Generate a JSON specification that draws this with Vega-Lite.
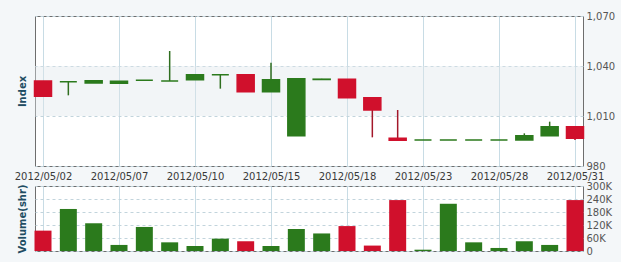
{
  "$schema": "https://vega.github.io/schema/vega-lite/v6.json",
  "background": "#f4f7f9",
  "padding": {"left": 13, "top": 10, "right": 5, "bottom": 5},
  "config": {
    "font": "DejaVu Sans",
    "view": {"stroke": "#6e6e6e", "fill": "white", "strokeWidth": 1}
  },
  "data": {
    "values": [
      {"date": "2012/05/02", "open": 1031.0, "high": 1031.0, "low": 1021.8, "close": 1021.8, "volume": 94000},
      {"date": "2012/05/03", "open": 1030.6, "high": 1030.6, "low": 1022.4, "close": 1030.6, "volume": 194000},
      {"date": "2012/05/04", "open": 1029.8, "high": 1031.2, "low": 1029.8, "close": 1031.2, "volume": 128000},
      {"date": "2012/05/07", "open": 1029.7, "high": 1030.9, "low": 1029.7, "close": 1030.9, "volume": 28000},
      {"date": "2012/05/08", "open": 1031.5, "high": 1031.5, "low": 1031.5, "close": 1031.5, "volume": 111000},
      {"date": "2012/05/09", "open": 1031.0, "high": 1049.0, "low": 1031.0, "close": 1031.0, "volume": 40000},
      {"date": "2012/05/10", "open": 1031.8, "high": 1034.8, "low": 1031.8, "close": 1034.8, "volume": 23000},
      {"date": "2012/05/11", "open": 1034.8, "high": 1034.8, "low": 1026.4, "close": 1034.8, "volume": 57000},
      {"date": "2012/05/14", "open": 1034.8, "high": 1034.8, "low": 1024.6, "close": 1024.6, "volume": 45000},
      {"date": "2012/05/15", "open": 1024.6, "high": 1042.0, "low": 1024.6, "close": 1031.8, "volume": 23000},
      {"date": "2012/05/16", "open": 998.2, "high": 1032.4, "low": 998.2, "close": 1032.4, "volume": 101000},
      {"date": "2012/05/17", "open": 1031.9, "high": 1032.3, "low": 1031.9, "close": 1032.1, "volume": 81000},
      {"date": "2012/05/18", "open": 1032.0, "high": 1032.0, "low": 1021.0, "close": 1021.0, "volume": 115000},
      {"date": "2012/05/21", "open": 1021.0, "high": 1021.0, "low": 997.2, "close": 1013.6, "volume": 25000},
      {"date": "2012/05/22", "open": 996.6, "high": 1013.6, "low": 995.4, "close": 995.4, "volume": 235000},
      {"date": "2012/05/23", "open": 995.6, "high": 995.6, "low": 995.6, "close": 995.6, "volume": 6000},
      {"date": "2012/05/24", "open": 995.6, "high": 995.6, "low": 995.6, "close": 995.6, "volume": 218000},
      {"date": "2012/05/25", "open": 995.6, "high": 995.6, "low": 995.6, "close": 995.6, "volume": 40000},
      {"date": "2012/05/28", "open": 995.6, "high": 995.6, "low": 995.6, "close": 995.6, "volume": 14000},
      {"date": "2012/05/29", "open": 995.6, "high": 999.6, "low": 995.6, "close": 998.2, "volume": 45000},
      {"date": "2012/05/30", "open": 998.2, "high": 1006.6, "low": 998.2, "close": 1003.6, "volume": 28000},
      {"date": "2012/05/31", "open": 1003.6, "high": 1003.6, "low": 995.6, "close": 996.6, "volume": 235000}
    ]
  },
  "spacing": 20,
  "bounds": "flush",
  "vconcat": [
    {
      "width": 548,
      "height": 150,
      "layer": [
        {
          "data": {"values": [{}]},
          "mark": {"type": "rect", "fill": "#dfe6eb", "opacity": 0.4},
          "encoding": {
            "y": {"datum": 1010, "type": "quantitative"},
            "y2": {"datum": 1040}
          }
        },
        {
          "mark": {"type": "rule", "strokeWidth": 1.5},
          "encoding": {
            "x": {"field": "date", "type": "ordinal"},
            "y": {"field": "low", "type": "quantitative"},
            "y2": {"field": "high"},
            "color": {"condition": {"test": "datum.close < datum.open", "value": "#a3172a"}, "value": "#2f6e1f"}
          }
        },
        {
          "mark": {"type": "bar", "size": 17, "strokeWidth": 1.5},
          "encoding": {
            "x": {
              "field": "date", "type": "ordinal", "sort": null,
              "scale": {"type": "point", "padding": 0.316},
              "axis": {
                "values": ["2012/05/02", "2012/05/07", "2012/05/10", "2012/05/15", "2012/05/18", "2012/05/23", "2012/05/28", "2012/05/31"],
                "title": null, "labelAngle": 0, "labelAlign": "center", "labelBaseline": "top",
                "ticks": false, "domain": false,
                "grid": true, "gridColor": "#c8dce5", "gridWidth": 1,
                "labelFontSize": 10, "labelColor": "#3a3a3a", "labelPadding": 5
              }
            },
            "y": {
              "field": "open", "type": "quantitative",
              "scale": {"domain": [980, 1070], "nice": false, "zero": false},
              "axis": {
                "orient": "right", "values": [980, 1010, 1040, 1070],
                "labelExpr": "format(datum.value, ',')",
                "ticks": false, "domain": false, "grid": true, "gridDash": [3, 3], "gridColor": "#c2d4dc",
                "labelColor": "#555555", "labelFontSize": 10, "labelPadding": 3,
                "title": "Index", "titleX": -561, "titleY": 75, "titleAngle": 270,
                "titleAlign": "center", "titleBaseline": "middle",
                "titleFontSize": 10, "titleFontWeight": "bold", "titleColor": "#1f4d63"
              }
            },
            "y2": {"field": "close"},
            "fill": {"condition": {"test": "datum.close < datum.open", "value": "#d0102c"}, "value": "#2b7a1c"},
            "stroke": {"condition": {"test": "datum.close < datum.open", "value": "#d0102c"}, "value": "#2b7a1c"}
          }
        }
      ]
    },
    {
      "width": 548,
      "height": 65,
      "mark": {"type": "bar", "size": 17},
      "encoding": {
        "x": {
          "field": "date", "type": "ordinal", "sort": null,
          "scale": {"type": "point", "padding": 0.316},
          "axis": {
            "values": ["2012/05/02", "2012/05/07", "2012/05/10", "2012/05/15", "2012/05/18", "2012/05/23", "2012/05/28", "2012/05/31"],
            "title": null, "labels": false, "ticks": false, "domain": false,
            "grid": true, "gridColor": "#c8dce5"
          }
        },
        "y": {
          "field": "volume", "type": "quantitative",
          "scale": {"domain": [0, 300000], "nice": false},
          "axis": {
            "orient": "right", "values": [0, 60000, 120000, 180000, 240000, 300000],
            "labelExpr": "datum.value == 0 ? '0' : (datum.value / 1000) + 'K'",
            "ticks": false, "domain": false, "grid": true, "gridDash": [3, 3], "gridColor": "#c2d4dc",
            "labelColor": "#555555", "labelFontSize": 10, "labelPadding": 3,
            "title": "Volume(shr)", "titleX": -561, "titleY": 32.5, "titleAngle": 270,
            "titleAlign": "center", "titleBaseline": "middle",
            "titleFontSize": 10, "titleFontWeight": "bold", "titleColor": "#1f4d63"
          }
        },
        "fill": {"condition": {"test": "datum.close < datum.open", "value": "#d0102c"}, "value": "#2b7a1c"}
      }
    }
  ]
}
